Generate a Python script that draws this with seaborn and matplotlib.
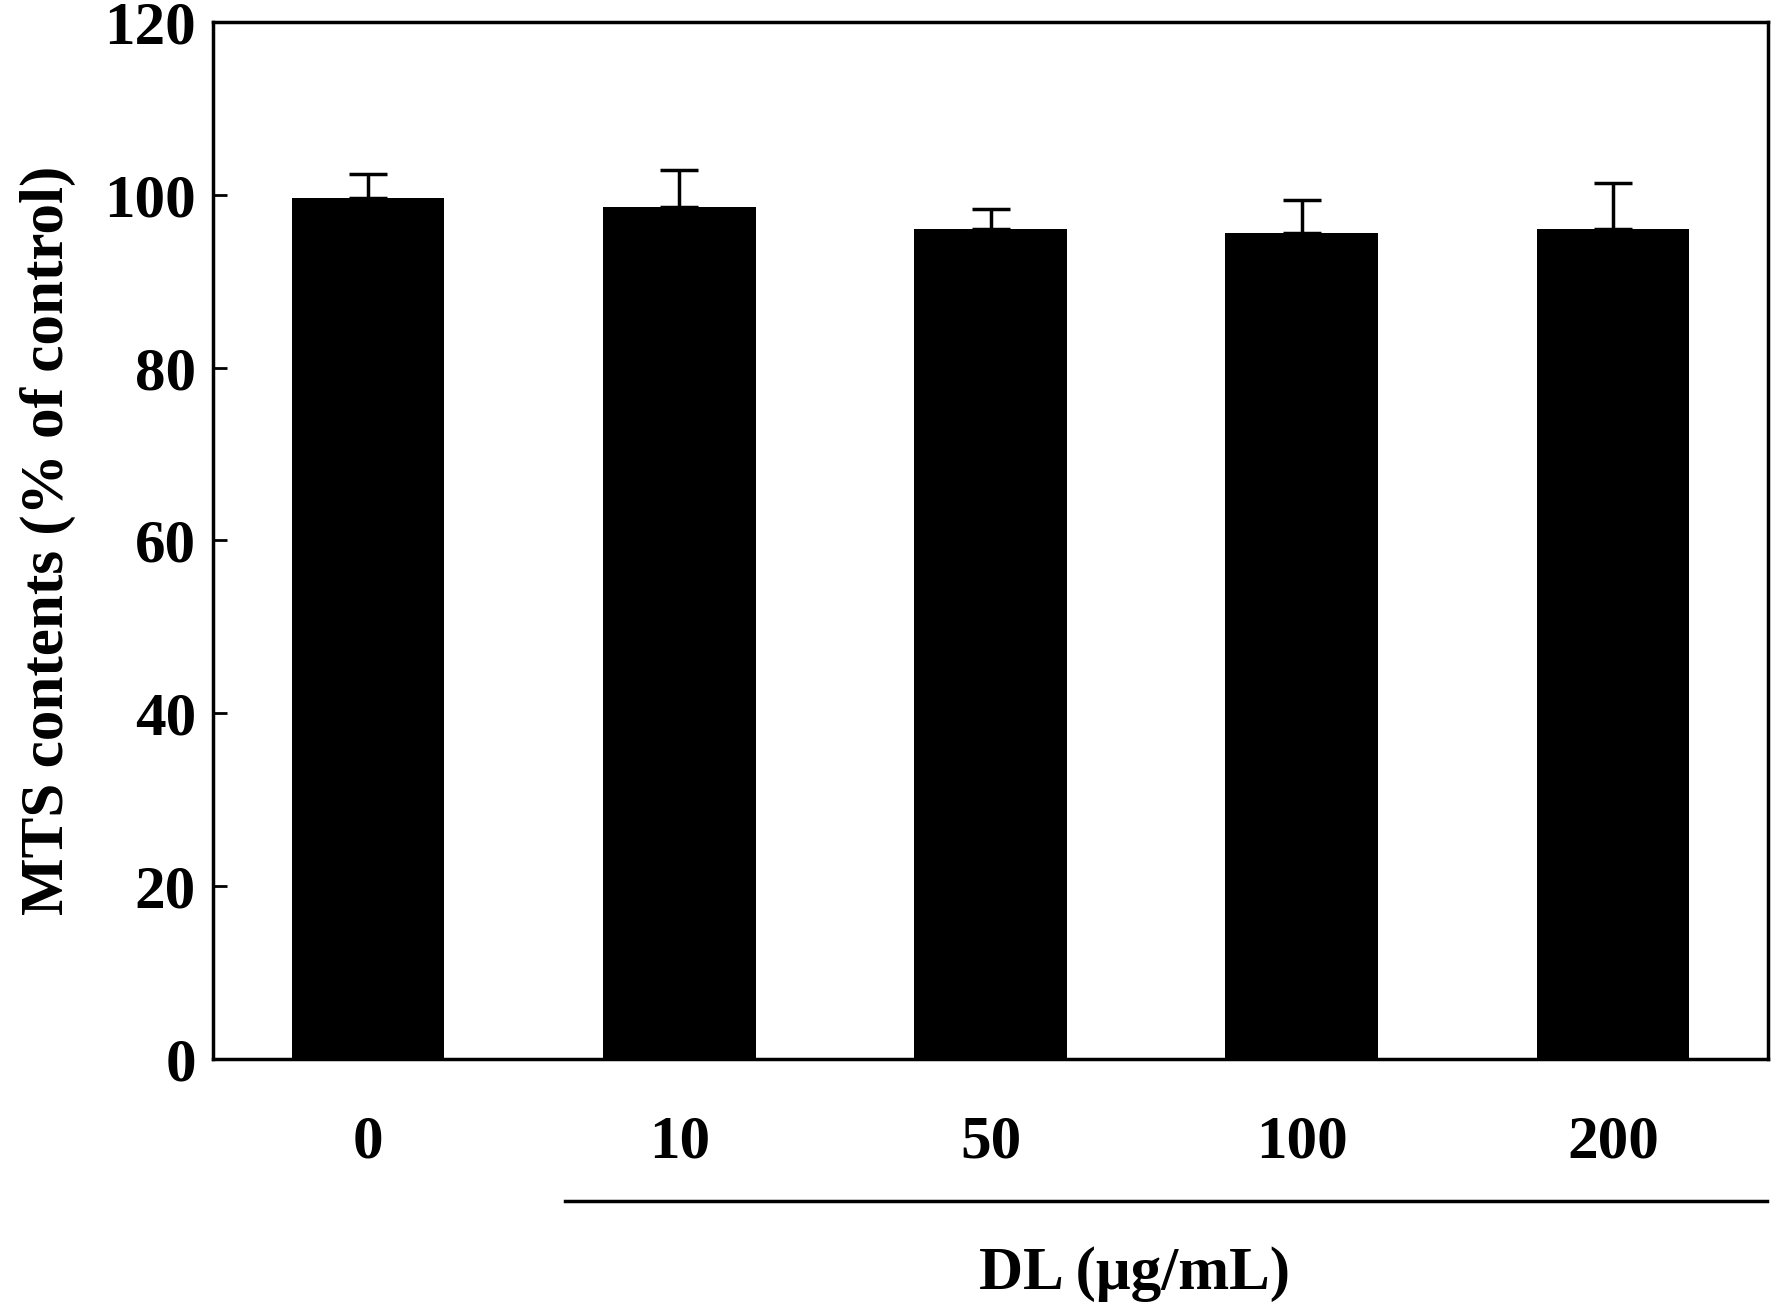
import seaborn as sns
import matplotlib.pyplot as plt
import pandas as pd

doses = ["0", "10", "50", "100", "200"]
mts_means = [99.6, 98.6, 96.1, 95.6, 96.1]
mts_errs = [2.8, 4.3, 2.3, 3.8, 5.3]

plt.rcParams["font.family"] = "Liberation Serif"
plt.rcParams["font.weight"] = "bold"

df = pd.DataFrame({"dose": doses, "mts": mts_means})

fig = plt.figure(figsize=(17.72, 13.07), dpi=100)
ax = fig.add_axes([0.12, 0.19, 0.878, 0.793])
sns.barplot(data=df, x="dose", y="mts", color="black", width=0.49,
            saturation=1, ax=ax)
ax.errorbar(range(len(doses)), mts_means, yerr=[[0] * 5, mts_errs],
            fmt="none", ecolor="black", elinewidth=2.5, capsize=14,
            capthick=2.5)

ax.set_xlim(-0.5, 4.5)
ax.set_ylim(0, 120)
ax.set_yticks(range(0, 121, 20))
ax.tick_params(axis="y", direction="in", length=10, width=2, labelsize=44, pad=12)
ax.tick_params(axis="x", length=0, labelsize=44, pad=40)
for s in ax.spines.values():
    s.set_linewidth(2.5)
ax.set_xlabel("")
ax.set_ylabel("MTS contents (% of control)", fontsize=44, fontweight="bold", labelpad=20)

fig.add_artist(plt.Line2D([0.319, 0.997], [0.081, 0.081], color="black", lw=2.5))
fig.text(0.64, 0.025, "DL (μg/mL)", ha="center", va="center", fontsize=44,
         fontweight="bold")

fig.savefig("out.png", dpi=100)
